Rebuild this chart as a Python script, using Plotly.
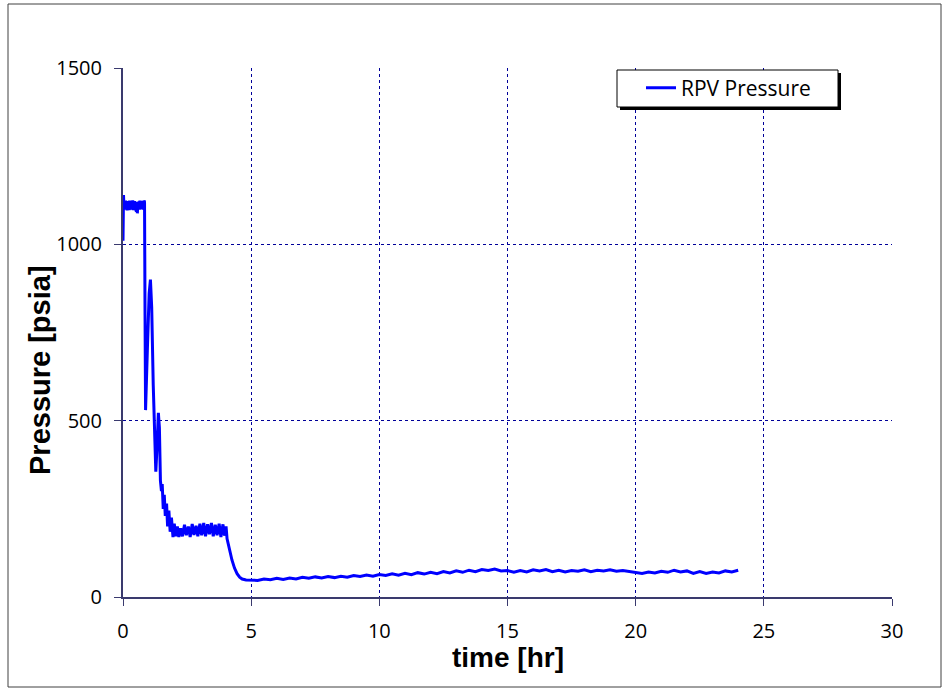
import plotly.graph_objects as go

# ---- data ----
time_hr = [
    0.00, 0.02, 0.04, 0.06, 0.08, 0.10, 0.12, 0.14, 0.16, 0.18, 0.20, 0.22, 0.24, 0.26, 0.28,
    0.30, 0.32, 0.34, 0.36, 0.38, 0.40, 0.42, 0.44, 0.46, 0.48, 0.50, 0.52, 0.54, 0.56, 0.58,
    0.60, 0.62, 0.64, 0.66, 0.68, 0.70, 0.72, 0.74, 0.76, 0.78, 0.80, 0.82, 0.84,
    0.86, 0.88, 0.95, 1.02, 1.07, 1.12, 1.18, 1.24, 1.28, 1.33, 1.38, 1.42, 1.46, 1.50, 1.53,
    1.57, 1.61, 1.65, 1.70, 1.74, 1.79, 1.84, 1.89, 1.95,
    2.00, 2.06, 2.12, 2.18, 2.25, 2.32, 2.40, 2.47, 2.55, 2.62, 2.70, 2.77, 2.85, 2.92, 3.00,
    3.07, 3.15, 3.22, 3.30, 3.37, 3.45, 3.52, 3.60, 3.67, 3.75, 3.82, 3.90, 3.96, 4.02,
    4.06, 4.10, 4.16, 4.25, 4.35, 4.45, 4.55, 4.65, 4.80, 5.00,
    5.25, 5.50, 5.75, 6.00, 6.25, 6.50, 6.75, 7.00, 7.25, 7.50, 7.75, 8.00, 8.25, 8.50, 8.75,
    9.00, 9.25, 9.50, 9.75, 10.00, 10.25, 10.50, 10.75, 11.00, 11.25, 11.50, 11.75, 12.00,
    12.25, 12.50, 12.75, 13.00, 13.25, 13.50, 13.75, 14.00, 14.25, 14.50, 14.75, 15.00,
    15.25, 15.50, 15.75, 16.00, 16.25, 16.50, 16.75, 17.00, 17.25, 17.50, 17.75, 18.00,
    18.25, 18.50, 18.75, 19.00, 19.25, 19.50, 19.75, 20.00, 20.25, 20.50, 20.75, 21.00,
    21.25, 21.50, 21.75, 22.00, 22.25, 22.50, 22.75, 23.00, 23.25, 23.50, 23.75, 24.00,
]
rpv_pressure_psia = [
    1010, 1140, 1100, 1122, 1098, 1124, 1102, 1120, 1096, 1123, 1100, 1121, 1097, 1124, 1101,
    1120, 1098, 1122, 1100, 1125, 1097, 1121, 1099, 1123, 1096, 1120, 1092, 1118, 1088, 1116,
    1100, 1122, 1098, 1124, 1101, 1121, 1099, 1123, 1100, 1122, 1098, 1124, 1120,
    800, 530, 700, 860, 900, 820, 600, 420, 355, 430, 522, 480, 330, 300, 320,
    250, 290, 230, 265, 200, 245, 185, 225, 170,
    208, 172, 200, 170, 195, 172, 205, 175, 200, 170, 207, 176, 202, 172, 208,
    175, 210, 172, 206, 178, 210, 172, 205, 175, 208, 170, 206, 174, 200,
    165, 150, 130, 105, 82, 66, 56, 51, 48, 47,
    47, 51, 49, 53, 50, 54, 51, 56, 53, 57, 54, 58, 55, 59, 56,
    61, 58, 62, 59, 64, 61, 66, 62, 67, 63, 69, 65, 70,
    66, 72, 68, 74, 70, 76, 72, 78, 75, 79, 74, 75,
    70, 75, 71, 77, 74, 78, 72, 76, 71, 75, 73, 77,
    72, 76, 74, 77, 73, 75, 72, 70, 67, 71, 68, 73,
    70, 76, 71, 74, 67, 72, 67, 71, 68, 74, 71, 76,
]
series_name = "RPV Pressure"
x_ticks = [0, 5, 10, 15, 20, 25, 30]
y_ticks = [0, 500, 1000, 1500]
x_title = "time [hr]"
y_title = "Pressure [psia]"

# ---- figure ----
W, H = 943, 689
ML, MR, MT, MB = 123, 51, 68, 92
PW, PH = W - ML - MR, H - MT - MB

fig = go.Figure()
fig.add_trace(go.Scatter(
    x=time_hr, y=rpv_pressure_psia, mode="lines", name=series_name,
    line=dict(color="#0000FF", width=3),
))

grid = dict(showgrid=True, gridcolor="#000099", griddash="dot", gridwidth=1,
            showline=True, linecolor="#3a3a6e", linewidth=2,
            ticks="outside", ticklen=7, tickcolor="#3a3a6e", tickwidth=1,
            zeroline=False, tickfont=dict(family="Open Sans", size=20, color="black"),
            ticklabelstandoff=8)

x_title_font = dict(family="Liberation Sans", size=28, color="black", weight="bold")
y_title_font = dict(family="Liberation Sans", size=29, color="black", weight="bold")

fig.update_layout(
    width=W, height=H,
    margin=dict(l=ML, r=MR, t=MT, b=MB, pad=0),
    paper_bgcolor="white", plot_bgcolor="white",
    showlegend=True,
    legend=dict(x=(641 - ML) / PW, y=(597 - 88) / PH,
                xanchor="left", yanchor="middle",
                bgcolor="rgba(0,0,0,0)", borderwidth=0,
                font=dict(family="Open Sans", size=21, color="black")),
    xaxis=dict(range=[0, 30], tickvals=x_ticks, **grid),
    yaxis=dict(range=[0, 1500], tickvals=y_ticks, **grid),
    annotations=[
        dict(text=x_title, xref="paper", yref="paper",
             x=(508 - ML) / PW, y=(597 - 657) / PH, xanchor="center", yanchor="middle",
             showarrow=False, font=x_title_font),
        dict(text=y_title, xref="paper", yref="paper", textangle=-90,
             x=(40 - ML) / PW, y=(597 - 370) / PH, xanchor="center", yanchor="middle",
             showarrow=False, font=y_title_font),
    ],
)

shapes = [
    # outer chart border
    dict(type="rect", xref="paper", yref="paper", xsizemode="pixel", ysizemode="pixel",
         xanchor=0, yanchor=0, x0=8 - ML, x1=941 - ML, y0=597 - 687, y1=597 - 4,
         line=dict(color="#404040", width=1), fillcolor="rgba(0,0,0,0)", layer="below"),
    # legend shadow
    dict(type="rect", xref="paper", yref="paper", xsizemode="pixel", ysizemode="pixel",
         xanchor=0, yanchor=0, x0=620 - ML, x1=841 - ML, y0=597 - 110, y1=597 - 73,
         line=dict(width=0), fillcolor="black", layer="above"),
    # legend box
    dict(type="rect", xref="paper", yref="paper", xsizemode="pixel", ysizemode="pixel",
         xanchor=0, yanchor=0, x0=617 - ML, x1=838 - ML, y0=597 - 107, y1=597 - 70,
         line=dict(color="black", width=1), fillcolor="white", layer="above"),
]
fig.update_layout(shapes=shapes)

fig.write_html("out.html")
